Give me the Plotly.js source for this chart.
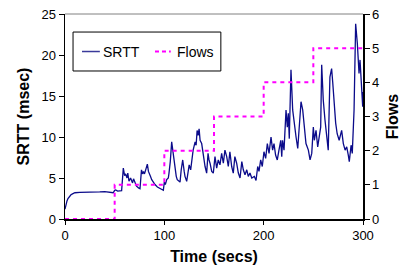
<!DOCTYPE html>
<html>
<head>
<meta charset="utf-8">
<script src="https://cdn.plot.ly/plotly-3.0.1.min.js"></script>
<style>html,body{margin:0;padding:0;background:#fff;}#chart{width:405px;height:276px;}</style>
</head>
<body>
<div id="chart"></div>
<script>
const timeSecs = [0,1,2,3,4,6,8,10,15,20,25,30,35,40,45,48.5,50,51,53,55,57,58.7,60,61,62.4,63.2,64.4,66,67,68,69,70.5,72,74,75.5,77,78,79,80,81,82.9,84,84.9,86,87.3,89,90.6,93,96,98.3,99,100,101,102.4,104,104.7,106,107.4,109,110.7,112,113,115.8,117,118.5,120,120.8,122.5,124,125,126.5,128,129,131,132,133,134,135,136,137.6,139,141,142.6,144,145,146,147.7,149.3,151,152.7,154.3,156,157.7,159.4,161,162.8,164.4,166,167.8,169.4,171,172.8,174.5,176.2,178,179.5,181.2,183,184.5,186.2,188,190.6,192.3,194,195.3,197,198.6,200.3,202,203.7,205.4,207.4,209,210.4,212,213.7,215.4,217.2,218.2,219,220.5,222.5,223.8,224.8,225.8,227.5,229.2,230.5,232.6,234.3,236,237.6,239.3,241,242.6,245,246.7,248.4,250,251,252.7,254.4,256,257.4,258.4,260,261.7,263.5,265,266.7,268.4,269.5,270.8,272.5,274,276,278.5,280.2,282,283.6,285.2,286.2,288,289.2,291,292.6,294.3,296,297,298.7,299.7,300];
const srtt = [1.2,1.8,2.2,2.5,2.7,2.95,3.1,3.2,3.25,3.25,3.3,3.3,3.3,3.35,3.3,3.2,3.5,3.55,3.4,3.45,3.45,6.2,5.3,5.5,5.0,5.6,4.6,5.0,4.6,4.4,4.9,4.3,4.0,3.8,3.7,6.0,5.5,5.8,5.5,5.9,6.7,5.8,5.6,5.2,4.8,4.4,4.2,3.9,3.7,3.6,3.5,4.5,4.2,4.8,5.0,5.6,7.0,9.4,8.0,6.0,5.2,4.8,4.5,6.0,7.2,5.8,5.2,4.6,5.6,6.6,6.0,7.5,8.4,9.4,9.0,10.8,10.2,11.0,9.6,9.2,8.0,6.4,5.6,8.0,7.2,6.8,5.8,5.6,7.6,6.2,7.2,6.6,8.0,6.8,8.4,7.6,6.4,8.2,6.4,5.6,7.6,6.8,5.6,5.0,7.0,6.0,5.4,6.0,5.2,5.6,5.0,5.2,4.7,6.4,5.8,7.2,6.4,8.2,7.4,9.2,8.0,10.0,8.4,9.2,7.8,7.2,8.4,9.6,7.6,9.6,8.4,13.3,11.2,12.9,9.8,18.2,13.3,11.7,10.0,8.6,11.2,14.3,13.3,11.2,9.2,8.4,7.2,8.0,11.2,9.6,10.8,8.8,10.0,11.2,18.8,14.5,12.1,10.0,8.4,17.3,18.35,16.7,14.5,11.7,10.4,9.6,10.8,9.2,8.4,8.8,7.8,7.0,9.0,8.0,13.3,23.8,21.4,17.75,19.4,16.1,13.7,15.5];
const flowTimes = [0,50,100,150,200,250,300];
const flows = [0,1,2,3,4,5,5];
const xTicks = [0,100,200,300];
const yTicks = [0,5,10,15,20,25];
const y2Ticks = [0,1,2,3,4,5,6];
const seriesNames = ['SRTT', 'Flows'];

const FONT = 'Liberation Sans, Arial, sans-serif';
const SRTT_COLOR = '#0b0b8a';
const FLOW_COLOR = '#ff00ff';
const traces = [
  {x: timeSecs, y: srtt, name: seriesNames[0], type: 'scatter', mode: 'lines',
   line: {color: SRTT_COLOR, width: 1.3}, yaxis: 'y', cliponaxis: false},
  {x: flowTimes, y: flows, name: seriesNames[1], type: 'scatter', mode: 'lines',
   line: {color: FLOW_COLOR, width: 2, dash: '4px,4px', shape: 'hv'}, yaxis: 'y2', cliponaxis: false}
];
const legY = 0.817;
const layout = {
  width: 405, height: 276,
  margin: {l: 65, r: 42, t: 14, b: 57},
  paper_bgcolor: '#fff', plot_bgcolor: '#fff',
  font: {family: FONT, size: 13, color: '#000'},
  showlegend: false,
  xaxis: {range: [0, 300], tickvals: xTicks, ticks: 'outside', ticklen: 4, tickcolor: '#000',
    showline: true, linecolor: '#000', linewidth: 1.5, showgrid: false, zeroline: false, layer: 'below traces',
    title: {text: 'Time (secs)', font: {family: FONT, size: 16, color: '#000', weight: 'bold'}, standoff: 8},
    tickfont: {size: 13}},
  yaxis: {range: [0, 25], tickvals: yTicks, ticks: 'outside', ticklen: 5, tickcolor: '#000',
    showline: true, linecolor: '#000', linewidth: 1.5, showgrid: false, zeroline: false, layer: 'below traces',
    title: {text: 'SRTT (msec)', font: {family: FONT, size: 16, color: '#000', weight: 'bold'}, standoff: 8},
    tickfont: {size: 13}},
  yaxis2: {range: [0, 6], tickvals: y2Ticks, overlaying: 'y', side: 'right', ticks: 'outside', ticklen: 5,
    tickcolor: '#000', showline: true, linecolor: '#000', linewidth: 1.5, showgrid: false, zeroline: false,
    layer: 'below traces',
    title: {text: 'Flows', font: {family: FONT, size: 16, color: '#000', weight: 'bold'}, standoff: 8},
    tickfont: {size: 13}},
  shapes: [
    {type: 'line', xref: 'paper', yref: 'paper', x0: 0, x1: 1, y0: 1, y1: 1,
     line: {color: '#808080', width: 1}, layer: 'below'},
    {type: 'rect', xref: 'paper', yref: 'paper', x0: 0.027, x1: 0.523, y0: 0.722, y1: 0.912,
     line: {color: '#000', width: 1}, fillcolor: '#fff', layer: 'above'},
    {type: 'line', xref: 'paper', yref: 'paper', x0: 0.057, x1: 0.117, y0: legY, y1: legY,
     line: {color: '#3a3a9a', width: 1.5}, layer: 'above'},
    {type: 'line', xref: 'paper', yref: 'paper', x0: 0.302, x1: 0.355, y0: legY, y1: legY,
     line: {color: FLOW_COLOR, width: 2, dash: '4px,3px'}, layer: 'above'}
  ],
  annotations: [
    {xref: 'paper', yref: 'paper', x: 0.122, y: legY, xanchor: 'left', yanchor: 'middle',
     text: seriesNames[0], showarrow: false, font: {family: FONT, size: 14, color: '#000'}},
    {xref: 'paper', yref: 'paper', x: 0.37, y: legY, xanchor: 'left', yanchor: 'middle',
     text: seriesNames[1], showarrow: false, font: {family: FONT, size: 14, color: '#000'}}
  ]
};
Plotly.newPlot('chart', traces, layout, {displayModeBar: false, staticPlot: true});
</script>
</body>
</html>
